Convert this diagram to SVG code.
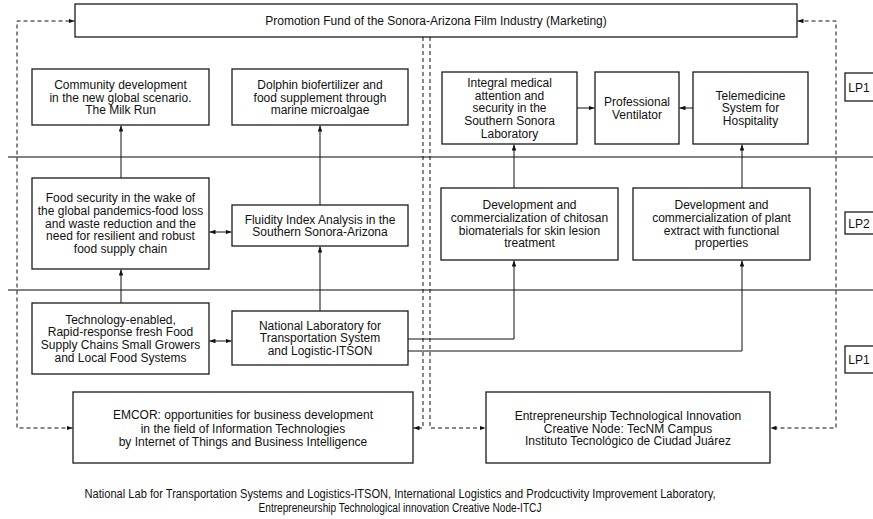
<svg xmlns="http://www.w3.org/2000/svg" width="873" height="519" viewBox="0 0 873 519">
  <style>
    .box { fill: #fff; stroke: #1a1a1a; stroke-width: 1.3; }
    .lane { stroke: #5a5a5a; stroke-width: 1.6; fill: none; }
    .t { font-family: "Liberation Sans", Arial, sans-serif; font-size: 12px; fill: #111; text-anchor: middle; }
    .cap { font-family: "Liberation Sans", Arial, sans-serif; font-size: 12px; fill: #111; text-anchor: middle; }
    .solid { stroke: #111; stroke-width: 1; fill: none; }
    .dash { stroke: #111; stroke-width: 1; fill: none; stroke-dasharray: 4 3; }
  </style>
  <defs>
    <marker id="ah" viewBox="0 0 8 6" refX="8" refY="3" markerWidth="6" markerHeight="4.5" markerUnits="userSpaceOnUse" orient="auto-start-reverse">
      <path d="M0,0 L8,3 L0,6 Z" fill="#111"/>
    </marker>
  </defs>

  <rect width="873" height="519" fill="#fff"/>

  <!-- swim-lane separators -->
  <g id="lanes">
    <line class="lane" x1="8" y1="157" x2="873" y2="157"/>
    <line class="lane" x1="8" y1="290" x2="873" y2="290"/>
  </g>

  <!-- connectors -->
  <g id="connectors">
    <line class="solid" x1="121" y1="178" x2="121" y2="125.5" marker-end="url(#ah)"/>
    <line class="solid" x1="320" y1="205" x2="320" y2="125.5" marker-end="url(#ah)"/>
    <line class="solid" x1="121" y1="303" x2="121" y2="269.5" marker-end="url(#ah)"/>
    <line class="solid" x1="320" y1="311" x2="320" y2="246.5" marker-end="url(#ah)"/>
    <line class="solid" x1="209.5" y1="232" x2="231.5" y2="232" marker-start="url(#ah)" marker-end="url(#ah)"/>
    <line class="solid" x1="209.5" y1="341" x2="231.5" y2="341" marker-start="url(#ah)" marker-end="url(#ah)"/>
    <path class="solid" d="M408 339 H514 V260.5" marker-end="url(#ah)"/>
    <path class="solid" d="M408 351 H742 V260.5" marker-end="url(#ah)"/>
    <line class="solid" x1="514" y1="188" x2="514" y2="144.5" marker-end="url(#ah)"/>
    <line class="solid" x1="742" y1="188" x2="742" y2="144.5" marker-end="url(#ah)"/>
    <line class="solid" x1="577" y1="108" x2="594.5" y2="108" marker-end="url(#ah)"/>
    <line class="solid" x1="693" y1="108" x2="679.5" y2="108" marker-end="url(#ah)"/>

    <path class="dash" d="M72.5 428 H17 V21 H74.5" marker-start="url(#ah)" marker-end="url(#ah)"/>
    <path class="dash" d="M797.5 21 H836 V428 H770.5" marker-start="url(#ah)" marker-end="url(#ah)"/>
    <path class="dash" d="M423 37 V428 H413.5" marker-end="url(#ah)"/>
    <path class="dash" d="M430 37 V428 H485.5" marker-end="url(#ah)"/>
  </g>

  <g id="promotion-fund">
    <rect class="box" x="75" y="4" width="722" height="33"/>
    <text class="t" x="436" y="25">Promotion Fund of the Sonora-Arizona Film Industry (Marketing)</text>
  </g>

  <g id="community-development">
    <rect class="box" x="32" y="69" width="177" height="56"/>
    <text class="t" x="120.5" y="88.8">Community development</text>
    <text class="t" x="120.5" y="101.5">in the new global scenario.</text>
    <text class="t" x="120.5" y="114.2">The Milk Run</text>
  </g>

  <g id="dolphin-biofertilizer">
    <rect class="box" x="232" y="69" width="176" height="56"/>
    <text class="t" x="320" y="88.8">Dolphin biofertilizer and</text>
    <text class="t" x="320" y="101.5">food supplement through</text>
    <text class="t" x="320" y="114.2">marine microalgae</text>
  </g>

  <g id="integral-medical">
    <rect class="box" x="442" y="72" width="135" height="72"/>
    <text class="t" x="509.5" y="86.9">Integral medical</text>
    <text class="t" x="509.5" y="99.6">attention and</text>
    <text class="t" x="509.5" y="112.3">security in the</text>
    <text class="t" x="509.5" y="125">Southern Sonora</text>
    <text class="t" x="509.5" y="137.7">Laboratory</text>
  </g>

  <g id="professional-ventilator">
    <rect class="box" x="595" y="72" width="84" height="72"/>
    <text class="t" x="637" y="105.9">Professional</text>
    <text class="t" x="637" y="118.7">Ventilator</text>
  </g>

  <g id="telemedicine">
    <rect class="box" x="693" y="72" width="115" height="72"/>
    <text class="t" x="750.5" y="99.6">Telemedicine</text>
    <text class="t" x="750.5" y="112.3">System for</text>
    <text class="t" x="750.5" y="125">Hospitality</text>
  </g>

  <g id="food-security">
    <rect class="box" x="32" y="178" width="177" height="91"/>
    <text class="t" x="120.5" y="202.3">Food security in the wake of</text>
    <text class="t" x="120.5" y="215">the global pandemics-food loss</text>
    <text class="t" x="120.5" y="227.7">and waste reduction and the</text>
    <text class="t" x="120.5" y="240.4">need for resilient and robust</text>
    <text class="t" x="120.5" y="253.1">food supply chain</text>
  </g>

  <g id="fluidity-index">
    <rect class="box" x="232" y="205" width="176" height="41"/>
    <text class="t" x="320" y="223.6">Fluidity Index Analysis in the</text>
    <text class="t" x="320" y="236.3">Southern Sonora-Arizona</text>
  </g>

  <g id="chitosan-biomaterials">
    <rect class="box" x="441" y="188" width="177" height="72"/>
    <text class="t" x="529.5" y="209.3">Development and</text>
    <text class="t" x="529.5" y="222">commercialization of chitosan</text>
    <text class="t" x="529.5" y="234.7">biomaterials for skin lesion</text>
    <text class="t" x="529.5" y="247.4">treatment</text>
  </g>

  <g id="plant-extract">
    <rect class="box" x="633" y="188" width="177" height="72"/>
    <text class="t" x="721.5" y="209.3">Development and</text>
    <text class="t" x="721.5" y="222">commercialization of plant</text>
    <text class="t" x="721.5" y="234.7">extract with functional</text>
    <text class="t" x="721.5" y="247.4">properties</text>
  </g>

  <g id="rapid-response-supply">
    <rect class="box" x="32" y="303" width="177" height="71"/>
    <text class="t" x="120.5" y="323.7">Technology-enabled,</text>
    <text class="t" x="120.5" y="336.4">Rapid-response fresh Food</text>
    <text class="t" x="120.5" y="349.1">Supply Chains Small Growers</text>
    <text class="t" x="120.5" y="361.8">and Local Food Systems</text>
  </g>

  <g id="national-laboratory">
    <rect class="box" x="232" y="311" width="176" height="54"/>
    <text class="t" x="320" y="329.6">National Laboratory for</text>
    <text class="t" x="320" y="342.3">Transportation System</text>
    <text class="t" x="320" y="355">and Logistic-ITSON</text>
  </g>

  <g id="emcor">
    <rect class="box" x="73" y="392" width="340" height="71"/>
    <text class="t" x="243" y="419.1">EMCOR: opportunities for business development</text>
    <text class="t" x="243" y="432.6">in the field of Information Technologies</text>
    <text class="t" x="243" y="446.1">by Internet of Things and Business Intelligence</text>
  </g>

  <g id="entrepreneurship-node">
    <rect class="box" x="486" y="392" width="284" height="71"/>
    <text class="t" x="628" y="420.1">Entrepreneurship Technological Innovation</text>
    <text class="t" x="628" y="432.6">Creative Node: TecNM Campus</text>
    <text class="t" x="628" y="445.1">Instituto Tecnológico de Ciudad Juárez</text>
  </g>

  <g id="lp1-top">
    <rect class="box" x="845" y="73" width="35" height="28"/>
    <text class="t" x="859" y="91.5">LP1</text>
  </g>
  <g id="lp2">
    <rect class="box" x="845" y="212" width="35" height="22"/>
    <text class="t" x="859" y="227.5">LP2</text>
  </g>
  <g id="lp1-bottom">
    <rect class="box" x="845" y="346" width="35" height="27"/>
    <text class="t" x="859" y="364">LP1</text>
  </g>

  <g id="caption">
    <text class="cap" x="400" y="498" textLength="631" lengthAdjust="spacingAndGlyphs">National Lab for Transportation Systems and Logistics-ITSON, International Logistics and Prodcuctivity Improvement Laboratory,</text>
    <text class="cap" x="400" y="512" textLength="283" lengthAdjust="spacingAndGlyphs">Entrepreneurship Technological innovation Creative Node-ITCJ</text>
  </g>
</svg>
